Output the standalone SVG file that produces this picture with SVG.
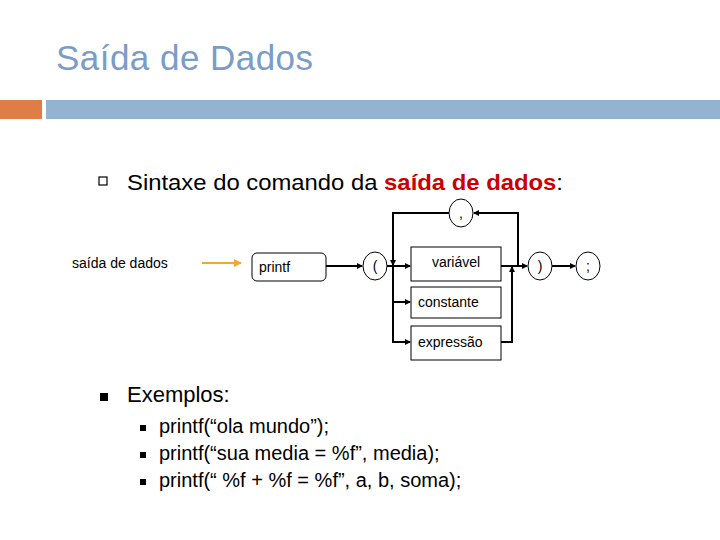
<svg xmlns="http://www.w3.org/2000/svg" width="720" height="540" viewBox="0 0 720 540">
<defs>
<marker id="ah" markerWidth="6" markerHeight="6" refX="5" refY="3" orient="auto" markerUnits="userSpaceOnUse"><path d="M0,0 L6,3 L0,6 z" fill="#000"/></marker>
<marker id="oh" markerWidth="8" markerHeight="8" refX="7" refY="4" orient="auto" markerUnits="userSpaceOnUse"><path d="M0,0 L8,4 L0,8 z" fill="#f0a830"/></marker>
</defs>
<style>
text{font-family:"Liberation Sans",Arial,sans-serif}
.n{fill:#fff;stroke:#000;stroke-width:1}
.c{fill:none;stroke:#000;stroke-width:2}
.t{font-size:14px}
</style>
<rect width="720" height="540" fill="#fff"/>
<text x="56" y="70" font-size="35" fill="#7a9cc6" textLength="257">Saída de Dados</text>
<rect x="0" y="100" width="42" height="19" fill="#e07c45"/>
<rect x="46" y="100" width="674" height="19" fill="#94b3d1"/>
<rect x="99" y="177" width="8" height="8" fill="none" stroke="#000" stroke-width="1.2"/>
<text x="127" y="190" font-size="22" textLength="436" lengthAdjust="spacingAndGlyphs">Sintaxe do comando da <tspan fill="#cc0000" font-weight="bold">saída de dados</tspan>:</text>
<g id="label"><text x="72" y="268" class="t">saída de dados</text></g>
<g id="connectors">
<line x1="202" y1="263" x2="241" y2="263" stroke="#f0a830" stroke-width="2" marker-end="url(#oh)"/>
<line x1="326" y1="266" x2="362" y2="266" class="c" marker-end="url(#ah)"/>
<line x1="387" y1="266" x2="410" y2="266" class="c" marker-end="url(#ah)"/>
<polyline points="393,266 393,342 410,342" class="c" marker-end="url(#ah)"/>
<line x1="393" y1="302" x2="410" y2="302" class="c" marker-end="url(#ah)"/>
<polyline points="449,213 393,213 393,265" class="c" marker-end="url(#ah)"/>
<polyline points="518,266 518,213 474,213" class="c" marker-end="url(#ah)"/>
<line x1="501" y1="266" x2="527" y2="266" class="c" marker-end="url(#ah)"/>
<polyline points="501,342 512,342 512,267" class="c" marker-end="url(#ah)"/>
<line x1="552" y1="266" x2="575" y2="266" class="c" marker-end="url(#ah)"/>
</g>
<g id="printf"><rect x="252" y="253" width="74" height="28" rx="5" class="n"/><text x="259" y="272" class="t">printf</text></g>
<g id="lparen"><ellipse cx="375" cy="266" rx="12" ry="14" class="n"/><text x="375" y="271" class="t" text-anchor="middle">(</text></g>
<g id="comma"><ellipse cx="461" cy="213" rx="12" ry="14" class="n"/><text x="461" y="218" class="t" text-anchor="middle">,</text></g>
<g id="variavel"><rect x="411" y="247" width="90" height="34" class="n"/><text x="456" y="267" class="t" text-anchor="middle">variável</text></g>
<g id="constante"><rect x="411" y="287" width="90" height="31" class="n"/><text x="418" y="307" class="t">constante</text></g>
<g id="expressao"><rect x="411" y="326" width="90" height="34" class="n"/><text x="418" y="347" class="t">expressão</text></g>
<g id="rparen"><ellipse cx="540" cy="266" rx="12" ry="14" class="n"/><text x="540" y="271" class="t" text-anchor="middle">)</text></g>
<g id="semi"><ellipse cx="588" cy="266" rx="12" ry="14" class="n"/><text x="588" y="271" class="t" text-anchor="middle">;</text></g>
<rect x="100" y="393" width="8" height="8" fill="#000"/>
<text x="127" y="402" font-size="22">Exemplos:</text>
<rect x="140" y="425" width="6" height="6" fill="#000"/>
<rect x="140" y="452" width="6" height="6" fill="#000"/>
<rect x="140" y="479" width="6" height="6" fill="#000"/>
<g font-size="20">
<text x="159" y="433">printf(“ola mundo”);</text>
<text x="159" y="460">printf(“sua media = %f”, media);</text>
<text x="159" y="487">printf(“ %f + %f = %f”, a, b, soma);</text>
</g>
</svg>
